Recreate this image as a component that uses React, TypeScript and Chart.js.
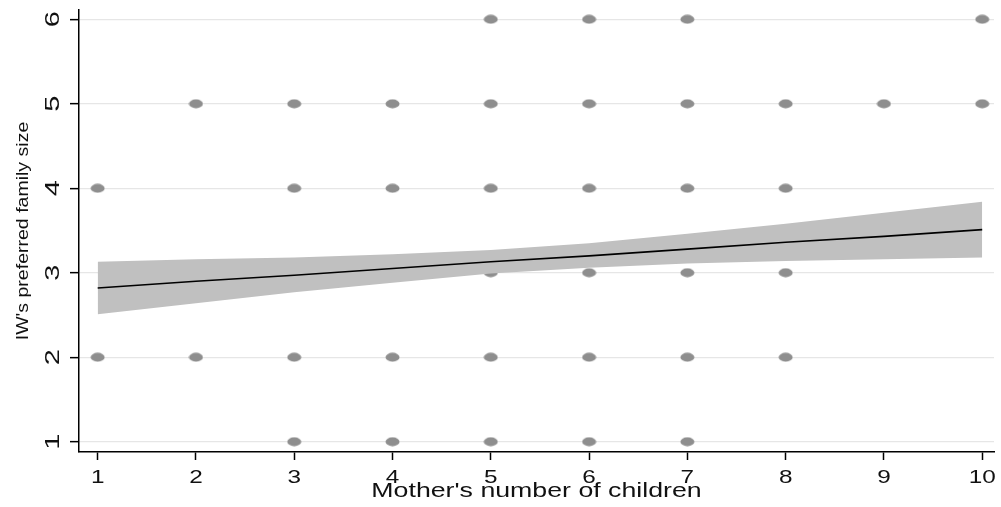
import { useEffect, useRef } from "react";
import { Chart, registerables } from "chart.js";

Chart.register(...registerables);

// Axis ticks
const childrenTicks = [1, 2, 3, 4, 5, 6, 7, 8, 9, 10];
const sizeTicks = [1, 2, 3, 4, 5, 6];

// Observed (mother's children) values for each preferred family size
const size6Children = [5, 6, 7, 10];
const size5Children = [2, 3, 4, 5, 6, 7, 8, 9, 10];
const size4Children = [1, 3, 4, 5, 6, 7, 8];
const size3Children = [5, 6, 7, 8];
const size2Children = [1, 2, 3, 4, 5, 6, 7, 8];
const size1Children = [3, 4, 5, 6, 7];

// Linear fit with confidence interval
const fitChildren = [1, 2, 3, 4, 5, 6, 7, 8, 9, 10];
const fitValues = [2.82, 2.9, 2.97, 3.05, 3.13, 3.2, 3.28, 3.36, 3.43, 3.51];
const ciLower = [2.51, 2.64, 2.77, 2.88, 2.99, 3.06, 3.11, 3.14, 3.16, 3.18];
const ciUpper = [3.13, 3.16, 3.18, 3.22, 3.27, 3.35, 3.46, 3.58, 3.71, 3.84];

const xTitle = "Mother's number of children";
const yTitle = "IW's preferred family size";

const FONT = '"Liberation Sans", Arial, sans-serif';

export default function App() {
  const ref = useRef<HTMLCanvasElement | null>(null);

  useEffect(() => {
    if (!ref.current) return;

    const dotImg = document.createElement("canvas");
    dotImg.width = 15;
    dotImg.height = 10;
    const dctx = dotImg.getContext("2d")!;
    dctx.fillStyle = "#8e8e8e";
    dctx.beginPath();
    dctx.ellipse(7.5, 5, 7, 4.4, 0, 0, Math.PI * 2);
    dctx.fill();

    const rows: [number, number[]][] = [
      [6, size6Children],
      [5, size5Children],
      [4, size4Children],
      [3, size3Children],
      [2, size2Children],
      [1, size1Children],
    ];
    const dots: { x: number; y: number }[] = [];
    rows.forEach(([size, kids]) => kids.forEach((k) => dots.push({ x: k, y: size })));

    const fitPts = fitChildren.map((x, i) => ({ x, y: fitValues[i] }));
    const upPts = fitChildren.map((x, i) => ({ x, y: ciUpper[i] }));
    const loPts = fitChildren.map((x, i) => ({ x, y: ciLower[i] }));

    const textPlugin = {
      id: "stataText",
      afterDraw(chart: any) {
        const ctx = chart.ctx as CanvasRenderingContext2D;
        const xs = chart.scales.x;
        const ys = chart.scales.y;
        ctx.save();
        ctx.fillStyle = "#111";
        // x tick labels
        ctx.font = `19px ${FONT}`;
        ctx.textAlign = "center";
        ctx.textBaseline = "alphabetic";
        childrenTicks.forEach((v) => {
          const px = xs.getPixelForValue(v);
          ctx.save();
          ctx.translate(px, 483);
          ctx.scale(1.28, 1);
          ctx.fillText(String(v), 0, 0);
          ctx.restore();
        });
        // y tick labels (rotated)
        ctx.font = `20px ${FONT}`;
        sizeTicks.forEach((v) => {
          const py = ys.getPixelForValue(v);
          ctx.save();
          ctx.translate(59, py);
          ctx.rotate(-Math.PI / 2);
          ctx.scale(1.45, 1);
          ctx.fillText(String(v), 0, 0);
          ctx.restore();
        });
        // x title
        ctx.font = `19.5px ${FONT}`;
        ctx.save();
        ctx.translate((chart.chartArea.left + chart.chartArea.right) / 2, 497);
        ctx.scale(1.37, 1);
        ctx.fillText(xTitle, 0, 0);
        ctx.restore();
        // y title
        ctx.font = `16px ${FONT}`;
        ctx.save();
        ctx.translate(27.5, (chart.chartArea.top + chart.chartArea.bottom) / 2);
        ctx.rotate(-Math.PI / 2);
        ctx.scale(1.22, 1);
        ctx.fillText(yTitle, 0, 0);
        ctx.restore();
        ctx.restore();
      },
    };

    const chart = new Chart(ref.current, {
      type: "scatter",
      data: {
        datasets: [
          {
            label: "Fitted values",
            data: fitPts,
            showLine: true,
            borderColor: "#000",
            borderWidth: 1.6,
            pointRadius: 0,
            fill: false,
            order: 0,
          },
          {
            label: "CI upper",
            data: upPts,
            showLine: true,
            borderColor: "rgba(0,0,0,0)",
            borderWidth: 0,
            backgroundColor: "#c0c0c0",
            pointRadius: 0,
            fill: "+1",
            order: 1,
          },
          {
            label: "CI lower",
            data: loPts,
            showLine: true,
            borderColor: "rgba(0,0,0,0)",
            borderWidth: 0,
            pointRadius: 0,
            fill: false,
            order: 2,
          },
          {
            label: "Observed",
            data: dots,
            showLine: false,
            pointStyle: dotImg as any,
            pointRadius: 6,
            order: 3,
          },
        ] as any,
      },
      plugins: [textPlugin],
      options: {
        responsive: true,
        maintainAspectRatio: false,
        animation: false,
        layout: { padding: { top: 10, right: 1, left: 0, bottom: 0 } },
        plugins: {
          legend: { display: false },
          tooltip: { enabled: false },
        },
        scales: {
          x: {
            type: "linear",
            min: 0.81,
            max: 10.12,
            afterBuildTicks: (s: any) => {
              s.ticks = childrenTicks.map((v) => ({ value: v }));
            },
            afterFit: (s: any) => {
              s.height = 55;
            },
            ticks: { display: false, includeBounds: false },
            grid: {
              drawOnChartArea: false,
              drawTicks: true,
              tickLength: 8,
              tickColor: "#000",
              tickWidth: 1.5,
            },
            border: { display: true, color: "#000", width: 1.5 },
          },
          y: {
            type: "linear",
            min: 0.878,
            max: 6.11,
            afterBuildTicks: (s: any) => {
              s.ticks = sizeTicks.map((v) => ({ value: v }));
            },
            afterFit: (s: any) => {
              s.width = 79;
            },
            ticks: { display: false, includeBounds: false },
            grid: {
              color: "#e6e6e6",
              lineWidth: 1.3,
              drawTicks: true,
              tickLength: 9,
              tickColor: "#000",
              tickWidth: 1.5,
            },
            border: { display: true, color: "#000", width: 1.5 },
          },
        },
      } as any,
    });

    return () => chart.destroy();
  }, []);

  return (
    <div style={{ position: "fixed", left: 0, top: 0, width: 1001, height: 507, background: "#fff" }}>
      <canvas ref={ref} />
    </div>
  );
}
